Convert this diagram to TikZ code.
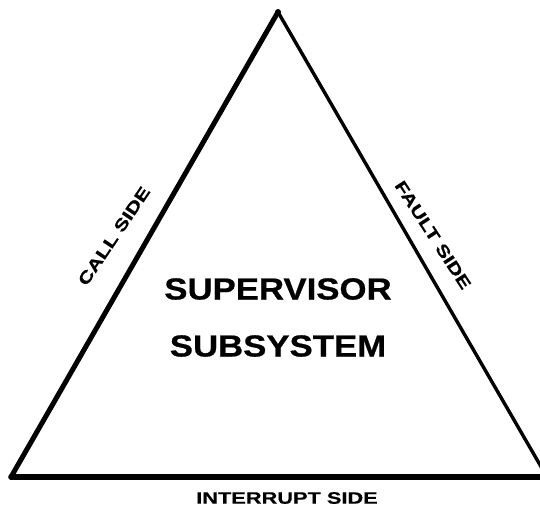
\documentclass[tikz,border=0pt]{standalone}
\usepackage{fontspec}
\newfontfamily\bigfont[FakeStretch=1.14, FakeBold=0.6]{Liberation Sans}
\newfontfamily\sidefont[FakeStretch=1.32, FakeBold=0.5]{Liberation Sans}
\usetikzlibrary{positioning}
\tikzset{
    % Text
    title/.style={font=\bigfont\bfseries\fontsize{30.5}{35}\selectfont, inner sep=0pt, align=center},
    sidelbl/.style={font=\sidefont\bfseries\fontsize{16.5}{20}\selectfont, inner sep=0pt},
    % Lines
    edge/.style={line cap=round, line join=round, black}
}
\begin{document}
\begin{tikzpicture}[x=1pt, y=-1pt]
\clip (0,0) rectangle (540,512);

\coordinate (apex) at (278,12);
\coordinate (lowleft) at (11,477);
\coordinate (lowright) at (547,477);

\draw[edge, line width=5pt] (lowleft) -- (apex);
\draw[edge, line width=3.4pt] (apex) -- (lowright);
\draw[edge, line width=5.5pt] (lowleft) -- (lowright);
\fill (apex) circle (3pt);

\node[title] (sup) at (278,289) {SUPERVISOR};
\node[title] (sub) at (278,346) {SUBSYSTEM};

\node[sidelbl, rotate=56] (call) at (114,236) {CALL SIDE};
\node[sidelbl, rotate=-57] (fault) at (433,235) {FAULT SIDE};
\node[sidelbl] (intr) at (287,498) {INTERRUPT SIDE};

\end{tikzpicture}
\end{document}
